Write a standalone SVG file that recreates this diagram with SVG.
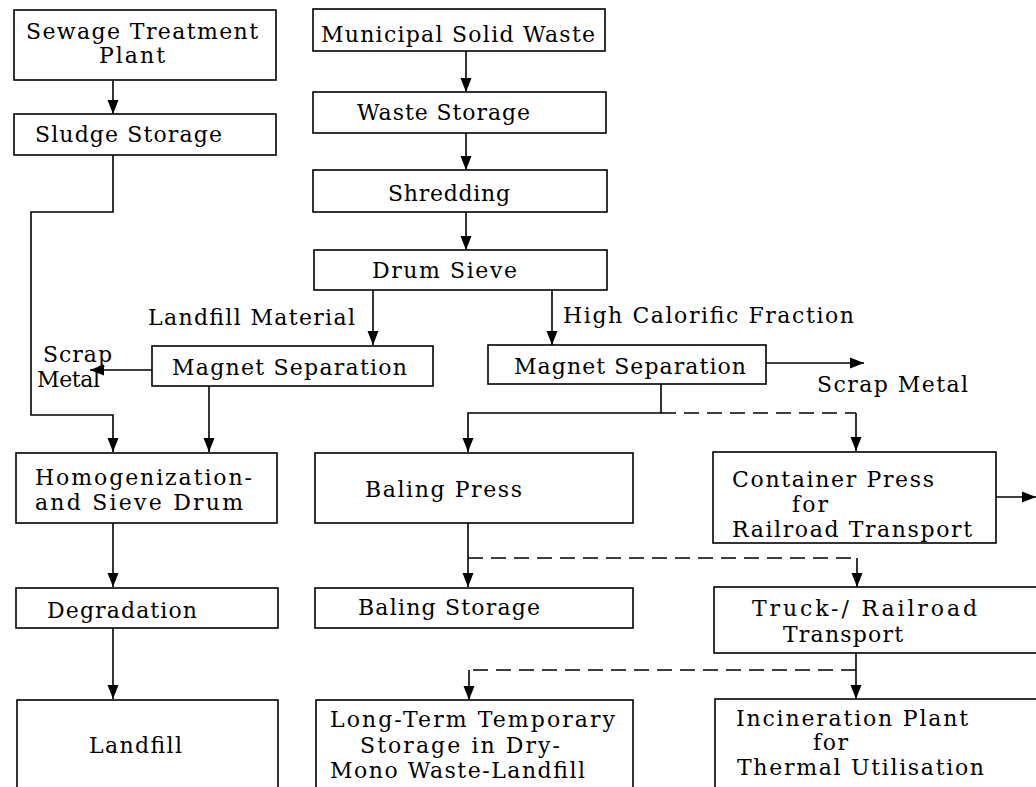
<svg xmlns="http://www.w3.org/2000/svg" width="1036" height="787" viewBox="0 0 1036 787">
<defs>
<marker id="ah" viewBox="0 0 14 12" refX="14" refY="6" markerWidth="14" markerHeight="12" markerUnits="userSpaceOnUse" orient="auto">
<path d="M0,0.5 L14,6 L0,11.5 z" fill="#000"/>
</marker>
<style>
.box{fill:#fff;stroke:#000;stroke-width:1.6}
text{font-family:"DejaVu Serif","Liberation Serif",serif;font-size:22px;fill:#000}
.c{fill:none;stroke:#000;stroke-width:1.6}
.a{marker-end:url(#ah)}
.d{stroke-dasharray:15 8}
</style>
</defs>
<rect width="1036" height="787" fill="#fff"/>
<g id="connectors">
<path class="c a" d="M113,80 V114"/>
<path class="c a" d="M113,155 V212 H31 V415 H113 V452"/>
<path class="c a" d="M466,51 V92"/>
<path class="c a" d="M466,133 V170"/>
<path class="c a" d="M466,212 V250"/>
<path class="c a" d="M373,290 V345"/>
<path class="c a" d="M552,290 V345"/>
<path class="c a" d="M152,370 H90"/>
<path class="c a" d="M209,386 V452"/>
<path class="c a" d="M766,363 H864"/>
<path class="c a" d="M661,384 V413 H468 V452"/>
<path class="c d" d="M661,413 H856"/>
<path class="c a" d="M856,413 V451"/>
<path class="c a" d="M468,523 V587"/>
<path class="c d" d="M468,558 H857"/>
<path class="c a" d="M857,558 V587"/>
<path class="c a" d="M996,497 H1036"/>
<path class="c a" d="M856,653 V699"/>
<path class="c d" d="M856,670 H469"/>
<path class="c a" d="M469,670 V700"/>
<path class="c a" d="M113,523 V587"/>
<path class="c a" d="M113,628 V699"/>
</g>
<g id="sewage"><rect class="box" x="14" y="10" width="262" height="70"/>
<text x="26" y="39" textLength="232">Sewage Treatment</text>
<text x="99" y="63" textLength="66">Plant</text></g>
<g id="sludge"><rect class="box" x="14" y="114" width="262" height="41"/>
<text x="35" y="142" textLength="187">Sludge Storage</text></g>
<g id="msw"><rect class="box" x="313" y="9" width="292" height="42"/>
<text x="321" y="42" textLength="274">Municipal Solid Waste</text></g>
<g id="wastestorage"><rect class="box" x="313" y="92" width="293" height="41"/>
<text x="357" y="120" textLength="173">Waste Storage</text></g>
<g id="shredding"><rect class="box" x="313" y="170" width="294" height="42"/>
<text x="388" y="201" textLength="122">Shredding</text></g>
<g id="drumsieve"><rect class="box" x="314" y="250" width="293" height="40"/>
<text x="372" y="278" textLength="145">Drum Sieve</text></g>
<g id="lbl-landfillmaterial"><text x="148" y="325" textLength="207">Landfill Material</text></g>
<g id="lbl-highcal"><text x="563" y="323" textLength="291">High Calorific Fraction</text></g>
<g id="lbl-scrap-left"><text x="43" y="362" textLength="69">Scrap</text>
<text x="37" y="387" textLength="63">Metal</text></g>
<g id="magnet-left"><rect class="box" x="152" y="346" width="281" height="40"/>
<text x="172" y="375" textLength="235">Magnet Separation</text></g>
<g id="magnet-right"><rect class="box" x="488" y="345" width="278" height="39"/>
<text x="514" y="374" textLength="232">Magnet Separation</text></g>
<g id="lbl-scrap-right"><text x="817" y="392" textLength="151">Scrap Metal</text></g>
<g id="homog"><rect class="box" x="16" y="453" width="261" height="70"/>
<text x="35" y="485" textLength="217">Homogenization-</text>
<text x="35" y="510" textLength="208">and Sieve Drum</text></g>
<g id="balingpress"><rect class="box" x="315" y="453" width="318" height="70"/>
<text x="365" y="497" textLength="157">Baling Press</text></g>
<g id="containerpress"><rect class="box" x="713" y="452" width="283" height="91"/>
<text x="732" y="487" textLength="202">Container Press</text>
<text x="792" y="512" textLength="36">for</text>
<text x="732" y="537" textLength="240">Railroad Transport</text></g>
<g id="degradation"><rect class="box" x="16" y="588" width="262" height="40"/>
<text x="47" y="618" textLength="150">Degradation</text></g>
<g id="balingstorage"><rect class="box" x="315" y="588" width="318" height="40"/>
<text x="358" y="615" textLength="182">Baling Storage</text></g>
<g id="truck"><rect class="box" x="714" y="587" width="340" height="66"/>
<text x="752" y="616" textLength="225">Truck-/ Railroad</text>
<text x="783" y="642" textLength="120">Transport</text></g>
<g id="landfill"><rect class="box" x="17" y="700" width="261" height="100"/>
<text x="89" y="753" textLength="93">Landfill</text></g>
<g id="longterm"><rect class="box" x="316" y="700" width="317" height="100"/>
<text x="330" y="727" textLength="285">Long-Term Temporary</text>
<text x="360" y="753" textLength="200">Storage in Dry-</text>
<text x="330" y="778" textLength="255">Mono Waste-Landfill</text></g>
<g id="incineration"><rect class="box" x="715" y="699" width="340" height="100"/>
<text x="736" y="726" textLength="232">Incineration Plant</text>
<text x="813" y="750" textLength="35">for</text>
<text x="737" y="775" textLength="247">Thermal Utilisation</text></g>
</svg>
